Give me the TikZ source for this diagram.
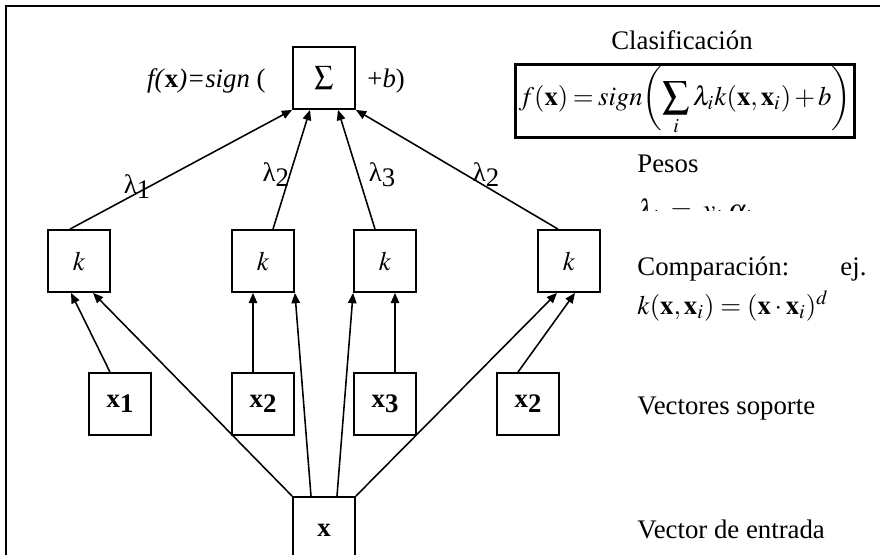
\documentclass[tikz,border=0pt]{standalone}
\usepackage{mathptmx}
\usepackage{fontspec}
\setmainfont{Liberation Serif}
\usetikzlibrary{arrows.meta, calc}

\begin{document}
\begin{tikzpicture}[x=0.448pt, y=-0.448pt,
  font=\fontsize{12}{14}\selectfont,
  unit/.style={draw, line width=0.8pt, minimum size=27.8pt, inner sep=0pt},
  arr/.style={-{Triangle[length=4.6pt, width=3.8pt]}, line width=0.7pt},
  txt/.style={anchor=base west, inner sep=0pt},
  wlab/.style={inner sep=0pt}
]
  \useasboundingbox (0,0) rectangle (880,555);
  \clip (0,0) rectangle (880,555);
  \draw[line width=0.9pt] (6,555) -- (6,6) -- (880,6);

  % salida
  \node[unit] (sig) at (324,78) {$\sum$};
  \node[anchor=base east, inner sep=0pt] (fx) at (266,87) {\textit{f(}\textbf{x}\textit{)=sign} (};
  \node[anchor=base west, inner sep=0pt] (pb) at (367,87) {+\textit{b})};

  % nucleos
  \node[unit] (k1) at (79,261) {$k$};
  \node[unit] (k2) at (263,261) {$k$};
  \node[unit] (k3) at (385,261) {$k$};
  \node[unit] (k4) at (569,261) {$k$};

  % vectores soporte
  \node[unit] (x1) at (120,404) {\textbf{x}\raisebox{-0.45ex}{\textbf{1}}};
  \node[unit] (x2) at (263,404) {\textbf{x}\raisebox{-0.45ex}{\textbf{2}}};
  \node[unit] (x3) at (385,404) {\textbf{x}\raisebox{-0.45ex}{\textbf{3}}};
  \node[unit] (x4) at (528,404) {\textbf{x}\raisebox{-0.45ex}{\textbf{2}}};

  % entrada
  \node[unit, minimum height=29.6pt] (xin) at (324,530) {\textbf{x}};

  % pesos
  \draw[arr] ($(k1.north)+(-9,0)$) -- node[wlab, pos=0.36, xshift=-5.8pt] {λ\raisebox{-0.4ex}{1}} (sig.south west);
  \draw[arr] ($(k2.north)+(10,0)$) -- node[wlab, pos=0.455, anchor=east] {λ\raisebox{-0.4ex}{2}} ($(sig.south)+(-14,0)$);
  \draw[arr] ($(k3.north)+(-10,0)$) -- node[wlab, pos=0.455, anchor=west, xshift=4.5pt] {λ\raisebox{-0.4ex}{3}} ($(sig.south)+(14,0)$);
  \draw[arr] ($(k4.north)+(-11,0)$) -- node[wlab, pos=0.455, anchor=west, xshift=2.7pt] {λ\raisebox{-0.4ex}{2}} (sig.south east);

  % comparacion
  \draw[arr] ($(x1.north)+(-10,0)$) -- ($(k1.south)+(-8,0)$);
  \draw[arr] ($(x2.north)+(-10,0)$) -- ($(k2.south)+(-10,0)$);
  \draw[arr] ($(x3.north)+(10,0)$) -- ($(k3.south)+(10,0)$);
  \draw[arr] ($(x4.north)+(-10,0)$) -- ($(k4.south)+(6,0)$);
  \draw[arr] (xin.north west) -- ($(k1.south)+(14,0)$);
  \draw[arr] ($(xin.north)+(-13,0)$) -- (k2.south east);
  \draw[arr] ($(xin.north)+(13,0)$) -- (k3.south west);
  \draw[arr] (xin.north east) -- ($(k4.south)+(-12,0)$);

  % textos de la derecha
  \node (tit) at (682,40) {Clasificación};
  \node[draw, line width=1.3pt, minimum width=152pt, minimum height=32.7pt, inner sep=0pt] (clf) at (685,101)
    {\medmuskip=2mu \thickmuskip=3mu
     $f(\mathbf{x}) = sign\biggl(\displaystyle\sum_i \lambda_i k(\mathbf{x},\mathbf{x}_i) + b\biggr)$};
  \node[txt] (pes) at (637,172) {Pesos};
  \begin{scope}
    \clip (600,185) rectangle (800,210);
    \node[txt] (lam) at (637,219) {$\lambda_i \;=\; y_i\;\alpha_i$};
  \end{scope}
  \node[txt, text width=102.6pt] (cmp) at (637,275) {Comparación:\hfill ej.};
  \node[txt] (ker) at (637,314) {$k(\mathbf{x},\mathbf{x}_i) = (\mathbf{x}\cdot\mathbf{x}_i)^d$};
  \node[txt] (vs) at (637,414) {Vectores soporte};
  \node[txt] (ve) at (637,538) {Vector de entrada};
\end{tikzpicture}
\end{document}
